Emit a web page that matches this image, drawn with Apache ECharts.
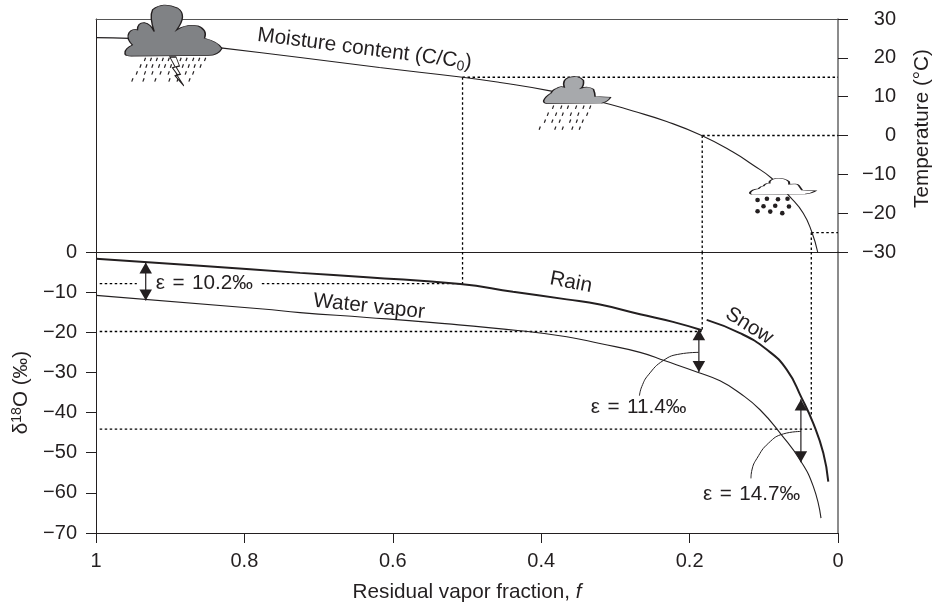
<!DOCTYPE html>
<html><head><meta charset="utf-8"><style>html,body{margin:0;background:#fff}#c{width:933px;height:603px}</style>
<script src="https://cdn.jsdelivr.net/npm/echarts@6/dist/echarts.min.js"></script></head>
<body><div id="c"></div><script>
const INK='#231f20';
const xTicks=[0,0.2,0.4,0.6,0.8,1];
const moisture=[[1,25.2],[.9546,25],[.887,23.8],[.829,22.5],[.725,20.1],[.618,17.5],[.506,15],[.4555,13.65],[.388,11.5],[.3208,8.7],[.2763,6.3],[.2309,3.6],[.1837,0],[.1415,-4.25],[.1146,-7.6],[.0894,-11],[.0647,-15.8],[.0468,-20],[.0354,-24.8],[.0274,-30]];
const rain=[[1,-1.7],[.86,-3.4],[.725,-5.2],[.635,-6.3],[.509,-8],[.438,-9.9],[.3656,-11.8],[.3208,-13.1],[.2668,-15.5],[.2224,-17.4],[.1833,-19.5]];
const vapor=[[1,-10.8],[.775,-14.2],[.725,-15.1],[.635,-16.3],[.5458,-17.6],[.4286,-19.6],[.3656,-21.1],[.3208,-22.8],[.2668,-25],[.2332,-27.1],[.1883,-30],[.159,-32.1],[.1321,-35.2],[.1051,-39.3],[.0759,-45.6],[.0512,-51.8],[.0333,-58.4],[.0229,-66.3]];
const snow=[[.177,-16.9],[.1321,-20.2],[.0961,-24.3],[.0691,-29.3],[.0489,-36.4],[.0333,-42.7],[.0198,-50.1],[.0131,-57.2]];
const guidesTemp=[[[.506,15],[0,15]],[[.506,15],[.506,-30]],[[.183,0],[0,0]],[[.183,0],[.183,-30]],[[.036,-25],[0,-25]],[[.036,-25],[.036,-30]]];
const guidesDelta=[[[.506,0],[.506,-8]],[[.183,0],[.183,-19.6]],[[.036,0],[.036,-40.6]],[[.995,-7.9],[.945,-7.9]],[[.7765,-7.9],[.506,-7.9]],[[.995,-19.8],[.184,-19.8]],[[.995,-44.1],[.035,-44.1]]];
const arrowShafts=[[[.933,-2.6],[.933,-12.1]],[[.1875,-19.2],[.1875,-29.9]],[[.05,-36.7],[.05,-52.4]]];
const arrowUp=[[.933,-4],[.1875,-20.6],[.05,-38.1]];
const arrowDown=[[.933,-10.7],[.1875,-28.5],[.05,-51]];
const leader1=[[.188,-25],[.2127,-25.4],[.2352,-27],[.2555,-30.6],[.2644,-33.5],[.2676,-35.8]];
const leader2=[[.0499,-44.7],[.0734,-45.3],[.0936,-47.6],[.1092,-51.4],[.116,-54.3],[.1173,-56.4]];
const rainStorm=[[.934,19.6],[.926,19.6],[.918,19.6],[.91,19.6],[.902,19.6],[.894,19.6],[.886,19.6],[.878,19.6],[.869,19.6],[.861,19.6],[.853,19.6],
[.94,17.9],[.932,17.9],[.924,17.9],[.915,17.9],[.907,17.9],[.899,17.9],[.891,17.9],[.883,17.9],[.875,17.9],[.867,17.9],[.859,17.9],
[.945,16.1],[.934,16.1],[.924,16.1],[.913,16.1],[.902,16.1],[.891,16.1],[.879,16.1],[.869,16.1],
[.951,14.3],[.936,14.3],[.92,14.3],[.901,14.3],[.89,14.3],[.874,14.3]];
const rainMid=[[.384,7.3],[.373,7.3],[.364,7.3],[.353,7.3],[.343,7.3],[.334,7.3],[.391,5.5],[.38,5.5],[.371,5.5],[.36,5.5],[.35,5.5],[.338,5.5],[.395,3.7],[.385,3.7],[.375,3.7],[.361,3.7],[.352,3.7],[.344,3.7],[.402,1.9],[.381,1.9],[.371,1.9],[.358,1.9],[.348,1.9]];
const snowDots=[[.1084,-16.6],[.0958,-16.3],[.0809,-16.4],[.068,-16.3],[.1004,-18.2],[.0846,-18.1],[.0661,-18.3],[.1084,-19.5],[.0913,-19.6],[.0751,-20]];
const clouds=[
 {at:[.8956,27],size:[97,51],fill:'#808285',path:'path://M108 158Q108 145 130 135Q110 115 120 98Q130 85 145 90Q145 68 165 68Q185 72 195 95Q180 50 190 30Q220 5 265 25Q295 45 262 90Q290 72 325 78Q355 90 345 115Q385 125 397 145Q385 168 350 166L135 168Q105 170 108 158Z'},
 {at:[.3516,11.7],size:[67,27],fill:'#a7a9ac',path:'path://M130 302Q135 290 152 280Q158 268 170 265Q180 258 192 262Q185 240 205 233Q235 225 250 242Q252 258 243 265Q265 258 280 268Q285 280 285 290L332 292Q325 305 305 310L140 311Q128 310 130 302Z'},
 {at:[.0741,-13.1],size:[66,16],fill:'#ffffff',path:'path://M750 577Q755 568 775 566Q782 558 790 558Q795 549 808 550Q805 540 825 536Q855 533 866 545L867 553Q890 550 895 556L905 570L947 572Q935 580 915 582L755 583Q748 582 750 577Z'}];
const bolt={at:[.891,16.5],size:[14,29],path:'path://M0 0L7 0L11 10L7 11L12 19L8 20L16 32L6 21L9 20L3 12L6 11Z'};
const labelsTop=[{at:[.638,22.3],rot:-7.4,text:'{n|Moisture content (C/C}{sub|0}{n|)}'}];
const labelsBottom=[
 {at:[.36,-7.6],rot:-11,text:'{n|Rain}'},{at:[.632,-13.6],rot:-6,text:'{n|Water vapor}'},{at:[.1196,-18.4],rot:-32,text:'{n|Snow}'},
 {at:[.854,-7.7],rot:0,text:'{m|ε \u200a= \u200a10.2‰}'},{at:[.2687,-38.8],rot:0,text:'{m|ε \u200a= \u200a11.4‰}'},{at:[.1163,-60.3],rot:0,text:'{m|ε \u200a= \u200a14.7‰}'}];

const FONT='"Liberation Sans",Arial,sans-serif';
const NAME=20.7;
const rich={n:{fontFamily:FONT,fontSize:NAME,color:INK,lineHeight:24},sub:{fontFamily:FONT,fontSize:14,color:INK,verticalAlign:'bottom',lineHeight:24},m:{fontFamily:FONT,fontSize:20.7,color:INK}};
const minusFmt=v=>String(v).replace('-','\u2212');
const axT={fontFamily:FONT,fontSize:20,color:INK};
const line=(g,data,w,extra)=>Object.assign({type:'line',xAxisIndex:g,yAxisIndex:g,data,symbol:'none',silent:true,clip:false,z:3,lineStyle:{color:INK,width:w}},extra||{});
const dotted=(g,data)=>line(g,data,1.3,{z:2,lineStyle:{color:'#000',width:1.3,type:[2.5,2.5]}});
const dots=(g,data,symbol,size,rotate,extra)=>Object.assign({type:'scatter',xAxisIndex:g,yAxisIndex:g,data,symbol,symbolSize:size,symbolRotate:rotate,silent:true,clip:false,z:5,itemStyle:{color:INK,opacity:1}},extra||{});
const textSeries=(g,arr)=>arr.map(l=>({type:'scatter',xAxisIndex:g,yAxisIndex:g,data:[l.at],symbolSize:1,silent:true,clip:false,z:6,itemStyle:{color:'transparent',opacity:1},
  label:{show:true,position:'inside',formatter:l.text,rich,rotate:l.rot,align:'center',verticalAlign:'middle'}}));
const series=[
 line(0,moisture,1.1,{smooth:.5}),
 line(1,rain,2,{smooth:.5}),
 line(1,vapor,1.1,{smooth:.5}),
 line(1,snow,2,{smooth:.5}),
 line(1,leader1,1,{smooth:.5}),
 line(1,leader2,1,{smooth:.5}),
 ...guidesTemp.map(s=>dotted(0,s)),
 ...guidesDelta.map(s=>dotted(1,s)),
 ...arrowShafts.map(s=>line(1,s,1.2)),
 dots(1,arrowUp,'triangle',[12.5,11],0),
 dots(1,arrowDown,'triangle',[12.5,11],180),
 dots(0,rainStorm,'rect',[1.2,3.6],-20),
 dots(0,rainMid,'rect',[1.2,3.6],-20),
 dots(0,snowDots,'circle',4.6,0),
 ...clouds.map(c=>dots(0,[c.at],c.path,c.size,0,{z:5,itemStyle:{color:c.fill,borderColor:INK,borderWidth:1,opacity:1}})),
 dots(0,[bolt.at],bolt.path,bolt.size,0,{z:6,itemStyle:{color:'#fff',borderColor:INK,borderWidth:1,opacity:1}}),
 ...textSeries(0,labelsTop),
 ...textSeries(1,labelsBottom)
];
const plain={show:false};
const option={animation:false,backgroundColor:'#fff',
 grid:[{left:96,width:742,top:19,height:233,outerBoundsMode:'none'},{left:96,width:742,top:252,height:281,outerBoundsMode:'none'}],
 xAxis:[
  {gridIndex:0,type:'value',min:0,max:1,inverse:true,position:'top',axisLine:{show:true,onZero:false,lineStyle:{color:'#555',width:1}},axisTick:plain,axisLabel:plain,splitLine:plain},
  {gridIndex:1,type:'value',min:0,max:1,interval:.2,inverse:true,position:'bottom',axisLine:{show:true,onZero:false,lineStyle:{color:INK,width:1}},axisTick:{show:true,length:10,lineStyle:{color:INK}},axisLabel:Object.assign({margin:18,formatter:v=>String(xTicks.includes(+v.toFixed(1))?+v.toFixed(1):v),showMinLabel:true,showMaxLabel:true},axT),splitLine:plain,
   name:'{a|Residual vapor fraction, }{i|f}',nameLocation:'middle',nameGap:49,nameTextStyle:{rich:{a:{fontFamily:FONT,fontSize:NAME,color:INK},i:{fontFamily:FONT,fontSize:NAME,fontStyle:'italic',color:INK}}}},
  {gridIndex:1,type:'value',min:0,max:1,inverse:true,position:'top',axisLine:{show:true,onZero:false,lineStyle:{color:INK,width:1}},axisTick:plain,axisLabel:plain,splitLine:plain}
 ],
 yAxis:[
  {gridIndex:0,type:'value',min:-30,max:30,interval:10,position:'right',axisLine:{show:true,onZero:false,lineStyle:{color:'#666',width:1.5}},axisTick:{show:true,length:10,lineStyle:{color:INK}},axisLabel:Object.assign({margin:58,align:'right',formatter:minusFmt,showMinLabel:true,showMaxLabel:true},axT),splitLine:plain,
   name:'Temperature (°C)',nameLocation:'middle',nameRotate:90,nameGap:74,nameTextStyle:{fontFamily:FONT,fontSize:NAME,color:INK,padding:[0,0,0,14]}},
  {gridIndex:1,type:'value',min:-70,max:0,interval:10,position:'left',axisLine:{show:true,onZero:false,lineStyle:{color:INK,width:1}},axisTick:{show:true,length:10,lineStyle:{color:INK}},axisLabel:Object.assign({margin:19,formatter:minusFmt,showMinLabel:true,showMaxLabel:true},axT),splitLine:plain,
   name:'{a|δ}{s|18}{a|O (‰)}',nameLocation:'middle',nameRotate:90,nameGap:58,nameTextStyle:{rich:{a:{fontFamily:FONT,fontSize:NAME,color:INK,lineHeight:24},s:{fontFamily:FONT,fontSize:14,color:INK,verticalAlign:'top',lineHeight:24}}}},
  {gridIndex:0,type:'value',min:-30,max:30,position:'left',axisLine:{show:true,onZero:false,lineStyle:{color:INK,width:1}},axisTick:plain,axisLabel:plain,splitLine:plain},
  {gridIndex:1,type:'value',min:-70,max:0,position:'right',axisLine:{show:true,onZero:false,lineStyle:{color:'#666',width:1.5}},axisTick:plain,axisLabel:plain,splitLine:plain}
 ],
 series};
echarts.init(document.getElementById('c'),null,{renderer:'canvas'}).setOption(option);
</script></body></html>
